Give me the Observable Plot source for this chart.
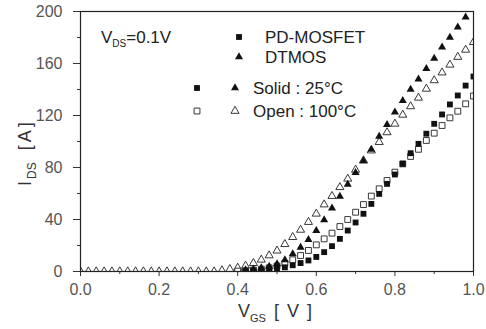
<!DOCTYPE html>
<html><head><meta charset="utf-8">
<script src="https://cdn.jsdelivr.net/npm/d3@7"></script>
<script src="https://cdn.jsdelivr.net/npm/@observablehq/plot@0.6"></script>
<style>
body{margin:0;background:#fff;}
#wrap{position:relative;width:486px;height:329px;}
</style></head><body><div id="wrap"></div>
<script>
// V_GS sweep (V)
const vgs = [0,0.02,0.04,0.06,0.08,0.10,0.12,0.14,0.16,0.18,0.20,0.22,0.24,0.26,0.28,0.30,0.32,0.34,0.36,0.38,0.40,0.42,0.44,0.46,0.48,0.50,0.52,0.54,0.56,0.58,0.60,0.62,0.64,0.66,0.68,0.70,0.72,0.74,0.76,0.78,0.80,0.82,0.84,0.86,0.88,0.90,0.92,0.94,0.96,0.98,1.00];
// I_DS (A) — DTMOS, 100°C (open triangles)
const dtmosOpen = [0,0,0,0,0,0,0,0,0,0,0,0,0,0,0,0,0,0,0.8,1.8,2.8,4.4,6.4,9,12.3,16,21,26.4,32,38,44.4,51.5,58,64.8,71.3,78.2,85.4,93,99.5,107,113.6,120.5,127,133.6,140.5,147,153,159,165,170.5,176.4];
// DTMOS, 25°C (filled triangles)
const dtmosSolid = [null,null,null,null,null,null,null,null,null,null,null,null,null,null,null,null,null,null,null,null,null,1.2,1.8,2.8,4,5.9,9,13.6,18.5,24.4,31.5,39.7,48.7,57.7,67,76,85,94,104,113,122.5,131.5,140,148,156,164,172.5,180,188,195.6,null];
// PD-MOSFET, 25°C (filled squares)
const pdSolid = [null,null,null,null,null,null,null,null,null,null,null,null,null,null,null,null,null,null,null,null,null,0.3,0.6,1,1.5,2.2,3.2,4.8,6.5,8.5,11.2,14.9,19.5,25.1,31.5,37.7,44.4,52,59.7,67.4,74.6,82.8,91,98.2,106,113.6,120.8,128.5,135.4,143,150];
// PD-MOSFET, 100°C (open squares)
const pdOpen = [null,null,null,null,null,null,null,null,null,null,null,null,null,null,null,null,null,null,null,null,0.3,0.6,1.1,1.8,2.8,4.2,6.2,9,12.3,16.2,20.5,25.1,29.5,34.6,40,45.6,51.5,58,63.6,70,76.4,82.8,88.5,94,100.8,106.4,112.3,118.2,123.3,129,135];

const xMajor = [0,0.2,0.4,0.6,0.8,1.0];
const xMinor = [0.1,0.3,0.5,0.7,0.9];
const yMajor = [0,40,80,120,160,200];
const yMinor = [20,60,100,140,180];

const rows = arr => vgs.map((v,i)=>({v, i: arr[i]})).filter(d => d.i != null);

const FONT = "'Liberation Sans', Arial, sans-serif";
const plot = Plot.plot({
  width: 486, height: 329,
  marginLeft: 80, marginRight: 13, marginTop: 11, marginBottom: 58,
  style: {fontFamily: FONT, fontSize: "16px", color: "#333", background: "#fff"},
  x: {domain: [0,1]},
  y: {domain: [0,200]},
  marks: [
    Plot.axisX({ticks: xMajor, tickSize: 5, tickPadding: 7, tickFormat: d => d.toFixed(1), label: null, fill: "#555", stroke: "#333"}),
    Plot.axisX({ticks: xMinor, tickSize: 3, tickFormat: () => "", label: null, stroke: "#333"}),
    Plot.axisY({ticks: yMajor, tickSize: 7, tickPadding: 11, label: null, fill: "#555", stroke: "#333"}),
    Plot.axisY({ticks: yMinor, tickSize: 3, tickFormat: () => "", label: null, stroke: "#333"}),
    Plot.dot(rows(dtmosOpen), {x: "v", y: "i", symbol: "triangle", r: 3, fill: "white", stroke: "#222", strokeWidth: 0.9, clip: true}),
    Plot.dot(rows(pdOpen), {x: "v", y: "i", symbol: "square", r: 3.3, fill: "white", stroke: "#222", strokeWidth: 0.9, clip: true}),
    Plot.dot(rows(dtmosSolid), {x: "v", y: "i", symbol: "triangle", r: 3, fill: "#111", stroke: "none", clip: true}),
    Plot.dot(rows(pdSolid), {x: "v", y: "i", symbol: "square", r: 3.3, fill: "#111", stroke: "none", clip: true}),
    Plot.frame({stroke: "#222", strokeWidth: 1.2})
  ]
});
document.getElementById("wrap").appendChild(plot);

// annotations / legend
const svg = d3.select(plot);
const g = svg.append("g").attr("font-family", FONT).attr("fill", "#222").attr("text-anchor", "start");
function label(x, y, parts, size) {
  const t = g.append("text").attr("x", x).attr("y", y).attr("font-size", size);
  parts.forEach(p => {
    const s = t.append("tspan").text(p.t);
    if (p.sub) s.attr("font-size", p.sub).attr("dy", p.dy);
    else if (p.dy) s.attr("dy", p.dy);
    if (p.dx) s.attr("dx", p.dx);
  });
  return t;
}
label(101, 43, [{t:"V"},{t:"DS", sub: 10, dy: 4},{t:"=0.1V", dy: -4}], 17);
label(265, 43, [{t:"PD-MOSFET"}], 17);
label(265, 63, [{t:"DTMOS"}], 17);
label(253, 94, [{t:"Solid : 25°C"}], 17);
label(253, 117, [{t:"Open : 100°C"}], 17);
const sym = (type, x, y, filled, r) => g.append("path")
  .attr("transform", `translate(${x},${y})`)
  .attr("d", d3.symbol(type, Math.PI * r * r)())
  .attr("fill", filled ? "#111" : "white")
  .attr("stroke", filled ? "none" : "#222").attr("stroke-width", 0.9);
sym(d3.symbolSquare, 239, 37, true, 3.3);
sym(d3.symbolTriangle, 239, 57, true, 3);
sym(d3.symbolSquare, 197, 88, true, 3.3);
sym(d3.symbolTriangle, 235, 88, true, 3);
sym(d3.symbolSquare, 197, 111, false, 3.3);
sym(d3.symbolTriangle, 235, 111, false, 3);

// axis titles
label(238, 317, [{t:"V"},{t:"GS", sub: 11, dy: 5},{t:"[ V ]", dy: -5, dx: 8}], 18).attr("fill", "#333").attr("word-spacing", "3px");
const yt = g.append("text").attr("transform", "translate(31,186) rotate(-90)").attr("font-size", 18).attr("fill", "#333");
yt.append("tspan").text("I");
yt.append("tspan").text("DS").attr("font-size", 12).attr("dy", 5).attr("dx", 2);
yt.append("tspan").text("[A]").attr("dy", -5).attr("dx", 12).attr("letter-spacing", "3px");
</script></body></html>
